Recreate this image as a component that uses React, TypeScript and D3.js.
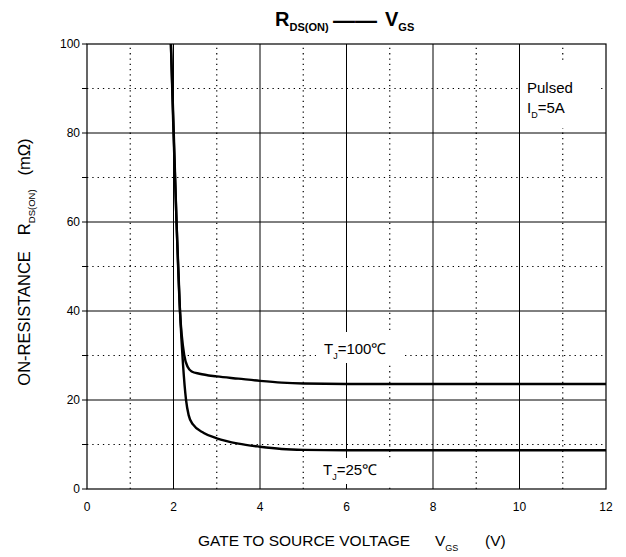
import React, { useEffect, useRef } from 'react'
import * as d3 from 'd3'

// Vgs (V) vs Rds(on) (mOhm)
const vgs100 = [1.94, 2.0, 2.07, 2.15, 2.25, 2.33, 2.42, 2.6, 3, 3.5, 4, 4.5, 5, 6, 8, 10, 12]
const rds100 = [100, 82, 60, 40, 30, 27.4, 26.4, 25.9, 25.3, 24.8, 24.3, 23.9, 23.7, 23.6, 23.6, 23.6, 23.6]

const vgs25 = [1.94, 2.0, 2.07, 2.15, 2.22, 2.29, 2.35, 2.45, 2.7, 3, 3.5, 4, 4.5, 5, 6, 8, 10, 12]
const rds25 = [100, 80, 60, 40, 28, 20, 16.6, 14.5, 12.6, 11.4, 10.2, 9.5, 9.0, 8.8, 8.7, 8.7, 8.7, 8.7]

const xTicks = [0, 2, 4, 6, 8, 10, 12]
const yTicks = [0, 20, 40, 60, 80, 100]
const xMinor = [1, 3, 5, 7, 9, 11]
const yMinor = [10, 30, 50, 70, 90]

const W = 626
const H = 557
const margin = { top: 44, right: 20, bottom: 68, left: 87 }
const font = 'Liberation Sans, Arial, sans-serif'

type TextSel = d3.Selection<SVGTextElement, unknown, null, undefined>

const Chart: React.FC = () => {
  const svgRef = useRef<SVGSVGElement | null>(null)

  useEffect(() => {
    if (!svgRef.current) return
    const svg = d3.select(svgRef.current)
    svg.selectAll('*').remove()

    const x = d3.scaleLinear().domain([0, 12]).range([margin.left, W - margin.right])
    const y = d3.scaleLinear().domain([0, 100]).range([H - margin.bottom, margin.top])

    const grid = svg.append('g')
    grid
      .selectAll('line.vmin')
      .data(xMinor)
      .join('line')
      .attr('x1', d => x(d))
      .attr('x2', d => x(d))
      .attr('y1', y(0))
      .attr('y2', y(100))
      .attr('stroke', '#000')
      .attr('stroke-width', 1.2)
      .attr('stroke-dasharray', '1.3,4')
    grid
      .selectAll('line.hmin')
      .data(yMinor)
      .join('line')
      .attr('x1', x(0))
      .attr('x2', x(12))
      .attr('y1', d => y(d))
      .attr('y2', d => y(d))
      .attr('stroke', '#000')
      .attr('stroke-width', 1.2)
      .attr('stroke-dasharray', '1.3,4')
    grid
      .selectAll('line.vmaj')
      .data(xTicks.slice(1, -1))
      .join('line')
      .attr('x1', d => x(d))
      .attr('x2', d => x(d))
      .attr('y1', y(0))
      .attr('y2', y(100))
      .attr('stroke', '#000')
      .attr('stroke-width', 1)
    grid
      .selectAll('line.hmaj')
      .data(yTicks.slice(1, -1))
      .join('line')
      .attr('x1', x(0))
      .attr('x2', x(12))
      .attr('y1', d => y(d))
      .attr('y2', d => y(d))
      .attr('stroke', '#000')
      .attr('stroke-width', 1)

    svg
      .append('rect')
      .attr('x', x(0))
      .attr('y', y(100))
      .attr('width', x(12) - x(0))
      .attr('height', y(0) - y(100))
      .attr('fill', 'none')
      .attr('stroke', '#000')
      .attr('stroke-width', 1.2)

    // left ticks every 10
    svg
      .append('g')
      .selectAll('line')
      .data(d3.range(0, 101, 10))
      .join('line')
      .attr('x1', x(0) - 5)
      .attr('x2', x(0))
      .attr('y1', d => y(d))
      .attr('y2', d => y(d))
      .attr('stroke', '#000')

    svg
      .append('g')
      .attr('font-family', font)
      .attr('font-size', 12)
      .attr('text-anchor', 'end')
      .selectAll('text')
      .data(yTicks)
      .join('text')
      .attr('x', x(0) - 7)
      .attr('y', d => y(d))
      .attr('dy', '0.35em')
      .text(d => d)

    svg
      .append('g')
      .attr('font-family', font)
      .attr('font-size', 12)
      .attr('text-anchor', 'middle')
      .selectAll('text')
      .data(xTicks)
      .join('text')
      .attr('x', d => x(d))
      .attr('y', y(0) + 22)
      .text(d => d)

    const line = d3
      .line<[number, number]>()
      .x(d => x(d[0]))
      .y(d => y(d[1]))
      .curve(d3.curveMonotoneX)

    const curves = [
      vgs100.map((v, i) => [v, rds100[i]] as [number, number]),
      vgs25.map((v, i) => [v, rds25[i]] as [number, number]),
    ]
    svg
      .append('g')
      .selectAll('path')
      .data(curves)
      .join('path')
      .attr('d', d => line(d))
      .attr('fill', 'none')
      .attr('stroke', '#000')
      .attr('stroke-width', 2.4)

    // annotation labels with white backing
    const note = (bx: number, by: number, bw: number, bh: number) =>
      svg.append('rect').attr('x', bx).attr('y', by).attr('width', bw).attr('height', bh).attr('fill', '#fff')
    note(316, 332, 86, 31)
    note(316, 458, 80, 26)
    note(521, 62, 79, 66)

    const sub = (t: TextSel, main: string, s: string, rest: string, subSize: number) => {
      t.append('tspan').text(main)
      t.append('tspan').attr('font-size', subSize).attr('dy', 5).text(s)
      t.append('tspan').attr('dy', -5).text(rest)
    }

    const t100 = svg.append('text').attr('font-family', font).attr('font-size', 15).attr('x', 324).attr('y', 354)
    sub(t100, 'T', 'J', '=100℃', 9)
    const t25 = svg.append('text').attr('font-family', font).attr('font-size', 15).attr('x', 323).attr('y', 475)
    sub(t25, 'T', 'J', '=25℃', 9)

    svg.append('text').attr('font-family', font).attr('font-size', 15).attr('x', 527).attr('y', 93).text('Pulsed')
    const id = svg.append('text').attr('font-family', font).attr('font-size', 15).attr('x', 527).attr('y', 113)
    sub(id, 'I', 'D', '=5A', 9)

    // title
    const title = svg
      .append('text')
      .attr('font-family', font)
      .attr('font-weight', 'bold')
      .attr('font-size', 20)
      .attr('y', 26)
    title.append('tspan').attr('x', 275).text('R')
    title.append('tspan').attr('font-size', 11).attr('dy', 5).text('DS(ON)')
    title.append('tspan').attr('x', 333).attr('dy', -3).attr('font-size', 22).text('——')
    title.append('tspan').attr('x', 385).attr('dy', -2).text('V')
    title.append('tspan').attr('font-size', 11).attr('dy', 5).text('GS')

    // x axis label
    const xl = svg.append('text').attr('font-family', font).attr('font-size', 15.5).attr('y', 546)
    xl.append('tspan').attr('x', 198).text('GATE TO SOURCE VOLTAGE')
    xl.append('tspan').attr('x', 435).text('V')
    xl.append('tspan').attr('font-size', 9).attr('dy', 5).text('GS')
    xl.append('tspan').attr('x', 485).attr('dy', -5).text('(V)')

    // y axis label
    const yl = svg
      .append('text')
      .attr('font-family', font)
      .attr('font-size', 16.5)
      .attr('text-anchor', 'middle')
      .attr('transform', 'translate(30,262) rotate(-90)')
    yl.append('tspan').text('ON-RESISTANCE')
    yl.append('tspan').attr('dx', 16).text('R')
    yl.append('tspan').attr('font-size', 9.5).attr('dy', 5).text('DS(ON)')
    yl.append('tspan').attr('dx', 14).attr('dy', -5).text('(mΩ)')
  }, [])

  return <svg ref={svgRef} width={W} height={H} style={{ display: 'block' }}></svg>
}

export default function App() {
  useEffect(() => {
    document.body.style.margin = '0'
  }, [])
  return <Chart />
}
